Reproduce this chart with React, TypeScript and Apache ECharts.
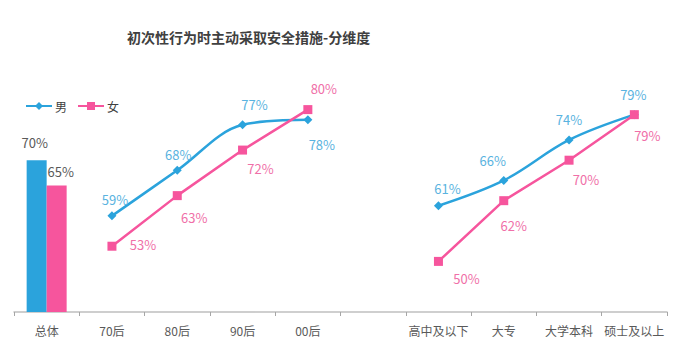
import React, { useEffect, useRef } from "react";
import * as echarts from "echarts";

const categories = ["总体", "70后", "80后", "90后", "00后", "", "高中及以下", "大专", "大学本科", "硕士及以上"];
const maleBar = [70, "-", "-", "-", "-", "-", "-", "-", "-", "-"];
const femaleBar = [65, "-", "-", "-", "-", "-", "-", "-", "-", "-"];
const maleLine = ["-", 59, 68, 77, 78, "-", 61, 66, 74, 79];
const femaleLine = ["-", 53, 63, 72, 80, "-", 50, 62, 70, 79];

// label offsets (styling only)
const maleLabelOffset: number[][] = [[0, 0], [3, -16], [1, -16], [12, -20], [14, 25], [0, 0], [9, -17], [-11, -20], [0, -20], [-1, -20]];
const femaleLabelOffset: number[][] = [[0, 0], [31, -2], [17, 22], [18, 18], [16, -21], [0, 0], [28, 17], [10, 25], [17, 19], [13, 21]];

const BLUE = "#2BA3DC";
const PINK = "#F6559D";
const FONT = "Noto Sans CJK SC";

function lineData(values: (number | string)[], offsets: number[][], color: string) {
  return values.map((v, i) =>
    v === "-"
      ? "-"
      : {
          value: v,
          label: {
            show: true,
            position: "inside",
            offset: offsets[i],
            formatter: "{c}%",
            color,
            fontSize: 13,
            fontFamily: FONT,
          },
        }
  );
}

export default function App() {
  const ref = useRef<HTMLDivElement>(null);
  useEffect(() => {
    if (!ref.current) return;
    const chart = echarts.init(ref.current, null, { renderer: "svg" });
    chart.setOption({
      animation: false,
      backgroundColor: "#ffffff",
      title: {
        text: "初次性行为时主动采取安全措施-分维度",
        left: 122,
        top: 25,
        textStyle: { fontSize: 14, fontWeight: "bold", color: "#404040", fontFamily: FONT },
      },
      legend: {
        left: 20,
        top: 95,
        itemWidth: 26,
        itemHeight: 10,
        itemGap: 10,
        data: ["男", "女"],
        textStyle: { fontSize: 12, color: "#404040", fontFamily: FONT, padding: [0, 0, 0, -2] },
      },
      grid: { left: 14, right: 25, top: 59, bottom: 39 },
      xAxis: {
        type: "category",
        data: categories,
        axisLine: { lineStyle: { color: "#BFBFBF", width: 1.5 } },
        axisTick: { show: true, length: 4, lineStyle: { color: "#A6A6A6" } },
        axisLabel: { color: "#595959", fontSize: 12, fontFamily: FONT, margin: 12, interval: 0 },
      },
      yAxis: { type: "value", min: 40, max: 90, show: false, splitLine: { show: false } },
      series: [
        {
          name: "男",
          type: "line",
          data: lineData(maleLine, maleLabelOffset, "#5AB3E0"),
          smooth: 0.35,
          symbol: "diamond",
          symbolSize: 9,
          itemStyle: { color: BLUE },
          lineStyle: { color: BLUE, width: 2.5 },
          z: 3,
        },
        {
          name: "女",
          type: "line",
          data: lineData(femaleLine, femaleLabelOffset, "#F06FA8"),
          smooth: false,
          symbol: "rect",
          symbolSize: 9,
          itemStyle: { color: PINK },
          lineStyle: { color: PINK, width: 2.5 },
          z: 4,
        },
        {
          name: "男",
          type: "bar",
          data: maleBar,
          barWidth: 20,
          barGap: "0%",
          itemStyle: { color: BLUE },
          label: {
            show: true,
            position: "top",
            offset: [-2, -6],
            formatter: "{c}%",
            color: "#595959",
            fontSize: 13,
            fontFamily: FONT,
          },
        },
        {
          name: "女",
          type: "bar",
          data: femaleBar,
          barWidth: 20,
          barGap: "0%",
          itemStyle: { color: PINK },
          label: {
            show: true,
            position: "top",
            offset: [4, -3],
            formatter: "{c}%",
            color: "#595959",
            fontSize: 13,
            fontFamily: FONT,
          },
        },
      ],
    });
    return () => chart.dispose();
  }, []);
  return (
    <div
      ref={ref}
      style={{ position: "fixed", left: 0, top: 0, width: 692, height: 351 }}
    />
  );
}
